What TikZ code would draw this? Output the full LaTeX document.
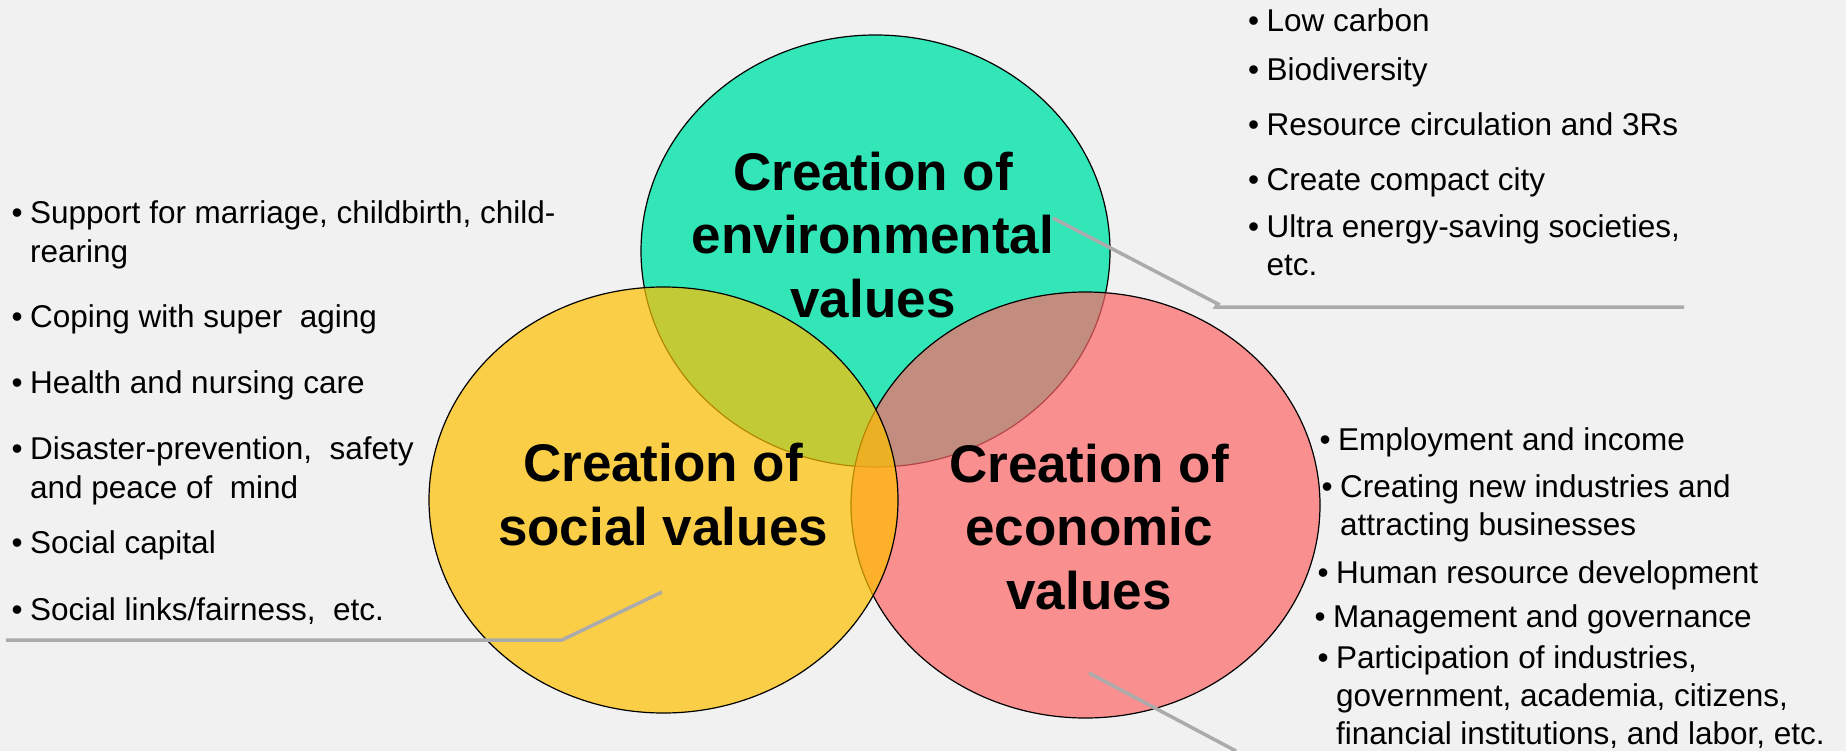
\documentclass[tikz,border=0pt]{standalone}
\usepackage{fontspec}
\setmainfont{Liberation Sans}
\usetikzlibrary{shapes.geometric}
\definecolor{bgc}{HTML}{F1F1F1}
\definecolor{envc}{HTML}{33E6B8}
\definecolor{socc}{HTML}{FFC000}
\definecolor{ecoc}{HTML}{FF6666}
\definecolor{leadc}{HTML}{ABABAB}
\newcommand\bul{\makebox[18.5pt][l]{•}}
\newcommand\ind{\hspace*{18.5pt}}
\tikzset{
  venn/.style={ellipse, draw=black, line width=1.2pt, inner sep=0pt, outer sep=0pt,
    minimum width=469pt},
  ttl/.style={font=\bfseries\fontsize{53}{63.5}\selectfont, align=center, inner sep=0pt, anchor=base},
  itm/.style={font=\fontsize{31.5}{38.5}\selectfont, align=left, inner sep=0pt, anchor=base west},
  lead/.style={draw=leadc, line width=3.5pt},
}
\begin{document}
\begin{tikzpicture}[x=1pt,y=-1pt]
\useasboundingbox (0,0) rectangle (1846,751);
\fill[bgc] (0,0) rectangle (1846,751);

% circles
\node[venn, fill=envc, minimum height=432pt] (env) at (875.5,251) {};
\node[venn, fill=ecoc, fill opacity=0.7, minimum height=426pt] (eco) at (1085.5,505) {};
\node[venn, fill=socc, fill opacity=0.7, minimum height=426pt] (soc) at (663.5,500) {};

% titles (anchor base = baseline of the last line)
\node[ttl] (envt) at (873,317) {Creation of\\environmental\\values};
\node[ttl] (soct) at (663,545) {Creation of\\social values};
\node[ttl] (ecot) at (1089,609) {Creation of\\economic\\values};

% environmental list
\node[itm] (e1) at (1248,31.7) {\bul Low carbon};
\node[itm] (e2) at (1248,80.7) {\bul Biodiversity};
\node[itm] (e3) at (1248,135.7) {\bul Resource circulation and 3Rs};
\node[itm] (e4) at (1248,190.7) {\bul Create compact city};
\node[itm] (e5) at (1248,276) {\bul Ultra energy-saving societies,\\\ind etc.};

% social list
\node[itm] (s1) at (11.5,262) {\bul Support for marriage, childbirth, child-\\\ind rearing};
\node[itm] (s2) at (11.5,327) {\bul Coping with super\ \ aging};
\node[itm] (s3) at (11.5,393) {\bul Health and nursing care};
\node[itm] (s4) at (11.5,498) {\bul Disaster-prevention,\ \ safety\\\ind and peace of\ \ mind};
\node[itm] (s5) at (11.5,553) {\bul Social capital};
\node[itm] (s6) at (11.5,620) {\bul Social links/fairness,\ \ etc.};

% economic list
\node[itm] (c1) at (1319.5,450) {\bul Employment and income};
\node[itm, font=\fontsize{31.5}{38}\selectfont] (c2) at (1321.5,535) {\bul Creating new industries and\\\ind attracting businesses};
\node[itm] (c3) at (1317.5,583) {\bul Human resource development};
\node[itm] (c4) at (1314.5,627) {\bul Management and governance};
\node[itm, font=\fontsize{31.5}{38}\selectfont] (c5) at (1317.5,744) {\bul Participation of industries,\\\ind government, academia, citizens,\\\ind financial institutions, and labor, etc.};

% leader lines
\coordinate (la) at (6,640);
\coordinate (lb) at (562,640);
\coordinate (lc) at (662,592);
\draw[lead] (la) -- (lb) -- (lc);

\coordinate (ra) at (1053,218);
\coordinate (rb) at (1218,304);
\coordinate (rc) at (1216,307);
\coordinate (rd) at (1684,307);
\draw[lead] (ra) -- (rb) -- (rc) -- (rd);

\coordinate (ba) at (1089,673);
\coordinate (bb) at (1236,751);
\draw[lead] (ba) -- (bb);
\end{tikzpicture}
\end{document}
